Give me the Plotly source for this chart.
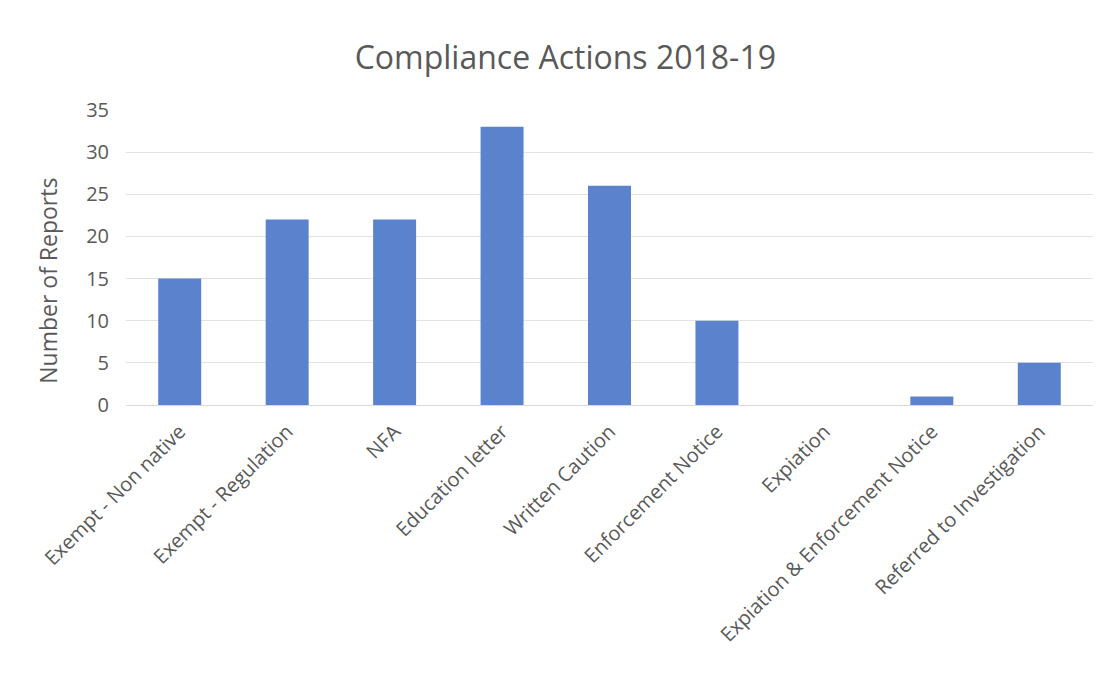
import plotly.graph_objects as go

categories = ["Exempt - Non native", "Exempt - Regulation", "NFA", "Education letter",
              "Written Caution", "Enforcement Notice", "Expiation",
              "Expiation & Enforcement Notice", "Referred to Investigation"]
reports = [15, 22, 22, 33, 26, 10, 0, 1, 5]
y_ticks = [0, 5, 10, 15, 20, 25, 30, 35]
y_title = "Number of Reports"

FONT = "Open Sans, Lato, sans-serif"
fig = go.Figure(go.Bar(x=categories, y=reports, marker=dict(color="#5b82cc", line=dict(width=0))))
fig.update_layout(
    width=1115, height=676,
    margin=dict(l=126, r=22, t=110, b=271),
    paper_bgcolor="white", plot_bgcolor="white",
    bargap=0.6,
    title=dict(text="Compliance Actions 2018-19", x=0.507, xanchor="center", y=0.915, yanchor="middle",
               font=dict(family=FONT, size=32, color="#595959")),
    font=dict(family=FONT, color="#595959"),
    showlegend=False,
)
fig.add_annotation(text=y_title, textangle=-90, xref="paper", yref="paper",
                   x=-0.081, y=0.42, xanchor="center", yanchor="middle", showarrow=False,
                   font=dict(family=FONT, size=23, color="#595959"))
fig.update_xaxes(tickangle=-45, tickfont=dict(size=20, color="#595959"), showline=True,
                 linecolor="#d9d9d9", ticks="outside", ticklen=6, tickcolor="rgba(0,0,0,0)",
                 showgrid=False)
fig.update_yaxes(range=[0, 35], tickvals=y_ticks, tickfont=dict(size=20, color="#595959"),
                 gridcolor="#e3e3e3", zeroline=False, ticks="outside", ticklen=12,
                 tickcolor="rgba(0,0,0,0)")
fig.write_html("out.html")
